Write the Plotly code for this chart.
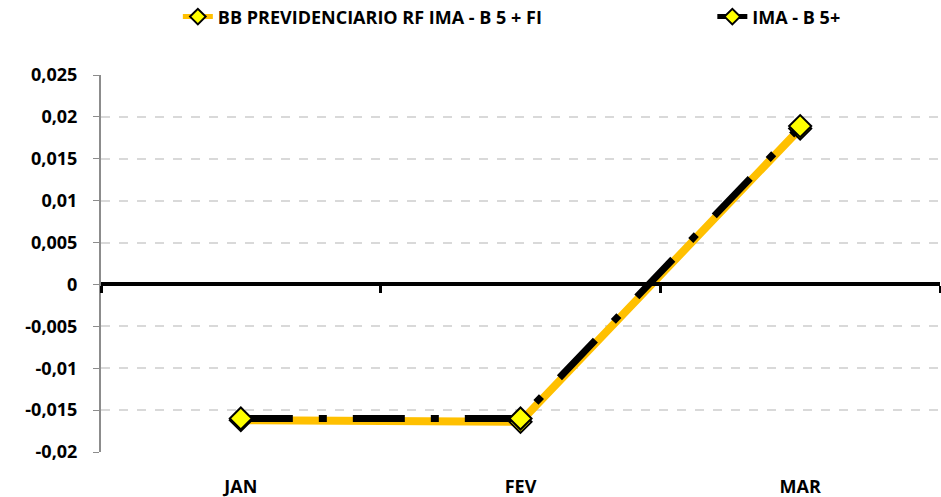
"""Rentabilidade mensal: fundo BB Previdenciario vs IMA-B 5+."""

import plotly.graph_objects as go

months = ["JAN", "FEV", "MAR"]
fund_name = "BB PREVIDENCIARIO RF IMA - B 5 + FI"
bench_name = "IMA - B 5+"
fund_values = [-0.0162, -0.0164, 0.0186]
bench_values = [-0.0160, -0.0160, 0.0189]

y_ticks = [-0.02, -0.015, -0.01, -0.005, 0, 0.005, 0.01, 0.015, 0.02, 0.025]
y_tick_labels = ["-0,02", "-0,015", "-0,01", "-0,005", "0",
                 "0,005", "0,01", "0,015", "0,02", "0,025"]

FONT = "Open Sans"
marker = dict(symbol="diamond", size=17, color="#FFFF00", line=dict(color="black", width=2))

fig = go.Figure()
fig.add_trace(go.Scatter(
    x=months, y=fund_values, name=fund_name, mode="lines+markers",
    line=dict(color="#FFC000", width=8), marker=marker, legend="legend",
))
# second series sits on the overlaid axis drawn along y=0
fig.add_trace(go.Scatter(
    x=months, y=bench_values, name=bench_name, mode="lines+markers", xaxis="x2",
    line=dict(color="black", width=7, dash="52px,26px,8px,26px"), marker=marker,
    legend="legend2",
))

zero_pos = (0 - y_ticks[0]) / (y_ticks[-1] - y_ticks[0])
leg = dict(orientation="h", xref="container", yref="container", xanchor="left",
           y=0.966, yanchor="middle", font=dict(size=18, weight="bold"),
           bgcolor="rgba(0,0,0,0)", itemsizing="constant")

fig.update_layout(
    width=941, height=497,
    margin=dict(l=101, r=1, t=75, b=45),
    plot_bgcolor="white", paper_bgcolor="white",
    font=dict(family=FONT, size=18, color="black", weight="bold"),
    showlegend=True,
    legend=dict(leg, x=0.189),
    legend2=dict(leg, x=0.757),
    xaxis=dict(
        type="category", categoryarray=months, range=[-0.5, 2.5],
        showline=False, ticks="", showgrid=False, zeroline=False,
        ticklabelstandoff=22, automargin=False,
    ),
    xaxis2=dict(
        type="category", categoryarray=months, range=[-0.5, 2.5],
        overlaying="x", anchor="free", position=zero_pos, side="bottom",
        showline=True, linecolor="black", linewidth=4,
        ticks="outside", tickson="boundaries", ticklen=7, tickwidth=3, tickcolor="black",
        showticklabels=False, showgrid=False, zeroline=False, automargin=False,
    ),
    yaxis=dict(
        range=[y_ticks[0], y_ticks[-1]], tickvals=y_ticks, ticktext=y_tick_labels,
        showline=True, linecolor="#8c8c8c", linewidth=2,
        ticks="outside", ticklen=6, tickcolor="#8c8c8c", tickwidth=1,
        showgrid=True, gridcolor="#d9d9d9", griddash="dash", gridwidth=1.5,
        zeroline=False, ticklabelstandoff=12, automargin=False,
    ),
)

fig.write_html("out.html", config={"displayModeBar": False},
               post_script="document.body.style.margin = '0';")
